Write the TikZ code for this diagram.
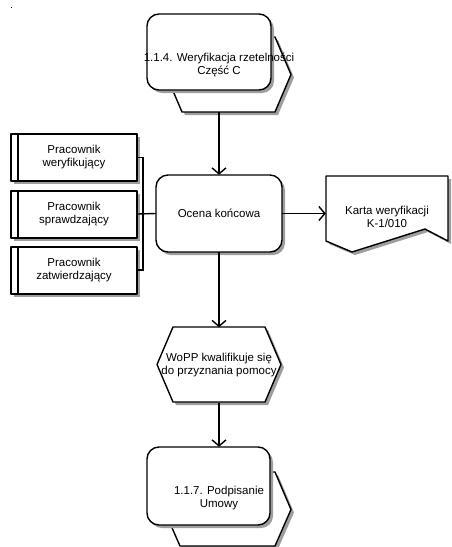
\documentclass[tikz,border=0pt]{standalone}
\usepackage{fontspec}
\setmainfont{Liberation Sans}
\usetikzlibrary{arrows.meta}

% draw a closed outline with a grey drop shadow behind it
\newcommand\shadowedshape[2][]{%
  \path[shade,#1,shift={(3,3)}] #2;
  \draw[outline,#1] #2;
}

\begin{document}
\begin{tikzpicture}[x=1pt,y=-1pt,
  outline/.style={draw=black, line width=1.4pt, fill=white, line join=round},
  shade/.style={fill=black!38, draw=none},
  lbl/.style={font=\fontsize{11.5}{13}\selectfont, align=center, inner sep=0pt},
  frame/.style={draw=none, inner sep=0pt},
  link/.style={line width=1.4pt},
  flow/.style={link, -{Straight Barb[length=6pt,width=14pt,line width=1.4pt]}},
]
\useasboundingbox (0,0) rectangle (452,547);

% tiny marker in the top-left corner
\fill (10.5,6.5) rectangle (12,8);

% ---- sub-process 1.1.4 (event hexagon behind a rounded task box)
\shadowedshape{(182,37) -- (275,37) -- (291,74.5) -- (275,112) -- (182,112) -- (166,74.5) -- cycle}
\shadowedshape[rounded corners=12]{(147,14) rectangle (271,90)}

% ---- central task
\shadowedshape[rounded corners=12]{(156,175) rectangle (282,252)}

% ---- roles on the left
\foreach \t in {134,191,247}{
  \shadowedshape{(11,\t) rectangle (137,\t+47)}
  \draw[link] (18,\t) -- (18,\t+47);
}

% ---- output document
\shadowedshape{(326,176) -- (448,176) -- (448,241) -- (425,229) -- (352,252) -- (326,241) -- cycle}

% ---- decision / event hexagon
\shadowedshape{(173,327) -- (265,327) -- (281,364.5) -- (265,402) -- (173,402) -- (157,364.5) -- cycle}

% ---- sub-process 1.1.7
\shadowedshape{(180,472) -- (275,472) -- (291,509.5) -- (275,546) -- (180,546) -- (164,509.5) -- cycle}
\shadowedshape[rounded corners=12]{(147,447) rectangle (270,525)}

% ---- named frames carrying the texts
\node[frame, minimum width=144, minimum height=98] (weryf) at (219,63) {};
\node[lbl] (weryftxt) at (219,65) {1.1.4. Weryfikacja rzetelności\\Część C};

\node[frame, minimum width=126, minimum height=77, lbl] (ocena) at (219,213.5) {Ocena końcowa};

\node[frame, minimum width=126, minimum height=47, lbl] (prac1) at (74,157.5) {Pracownik\\weryfikujący};
\node[frame, minimum width=126, minimum height=46, lbl] (prac2) at (74,214) {Pracownik\\sprawdzający};
\node[frame, minimum width=126, minimum height=46, lbl] (prac3) at (74,270) {Pracownik\\zatwierdzający};

\node[frame, minimum width=122, minimum height=76] (karta) at (387,214) {};
\node[lbl] (kartatxt) at (387,217) {Karta weryfikacji\\K-1/010};

\node[frame, minimum width=124, minimum height=75, lbl] (wopp) at (219,365) {WoPP kwalifikuje się\\do przyznania pomocy};

\node[frame, minimum width=144, minimum height=99] (umowa) at (219,496.5) {};
\node[lbl] (umowatxt) at (219,498) {1.1.7. Podpisanie\\Umowy};

% ---- connectors
\coordinate (join) at (143,214);
\draw[link] (prac1.east) -- (prac1.east -| join) -- (prac3.east -| join) -- (prac3.east);
\draw[link] (prac2.east) -- (ocena.west);

\draw[flow] (weryf.south) -- (ocena.north);
\draw[flow] (ocena.east) -- (ocena.east -| karta.west);
\draw[flow] (ocena.south) -- (wopp.north);
\draw[flow] (wopp.south) -- (umowa.north);
\end{tikzpicture}
\end{document}
